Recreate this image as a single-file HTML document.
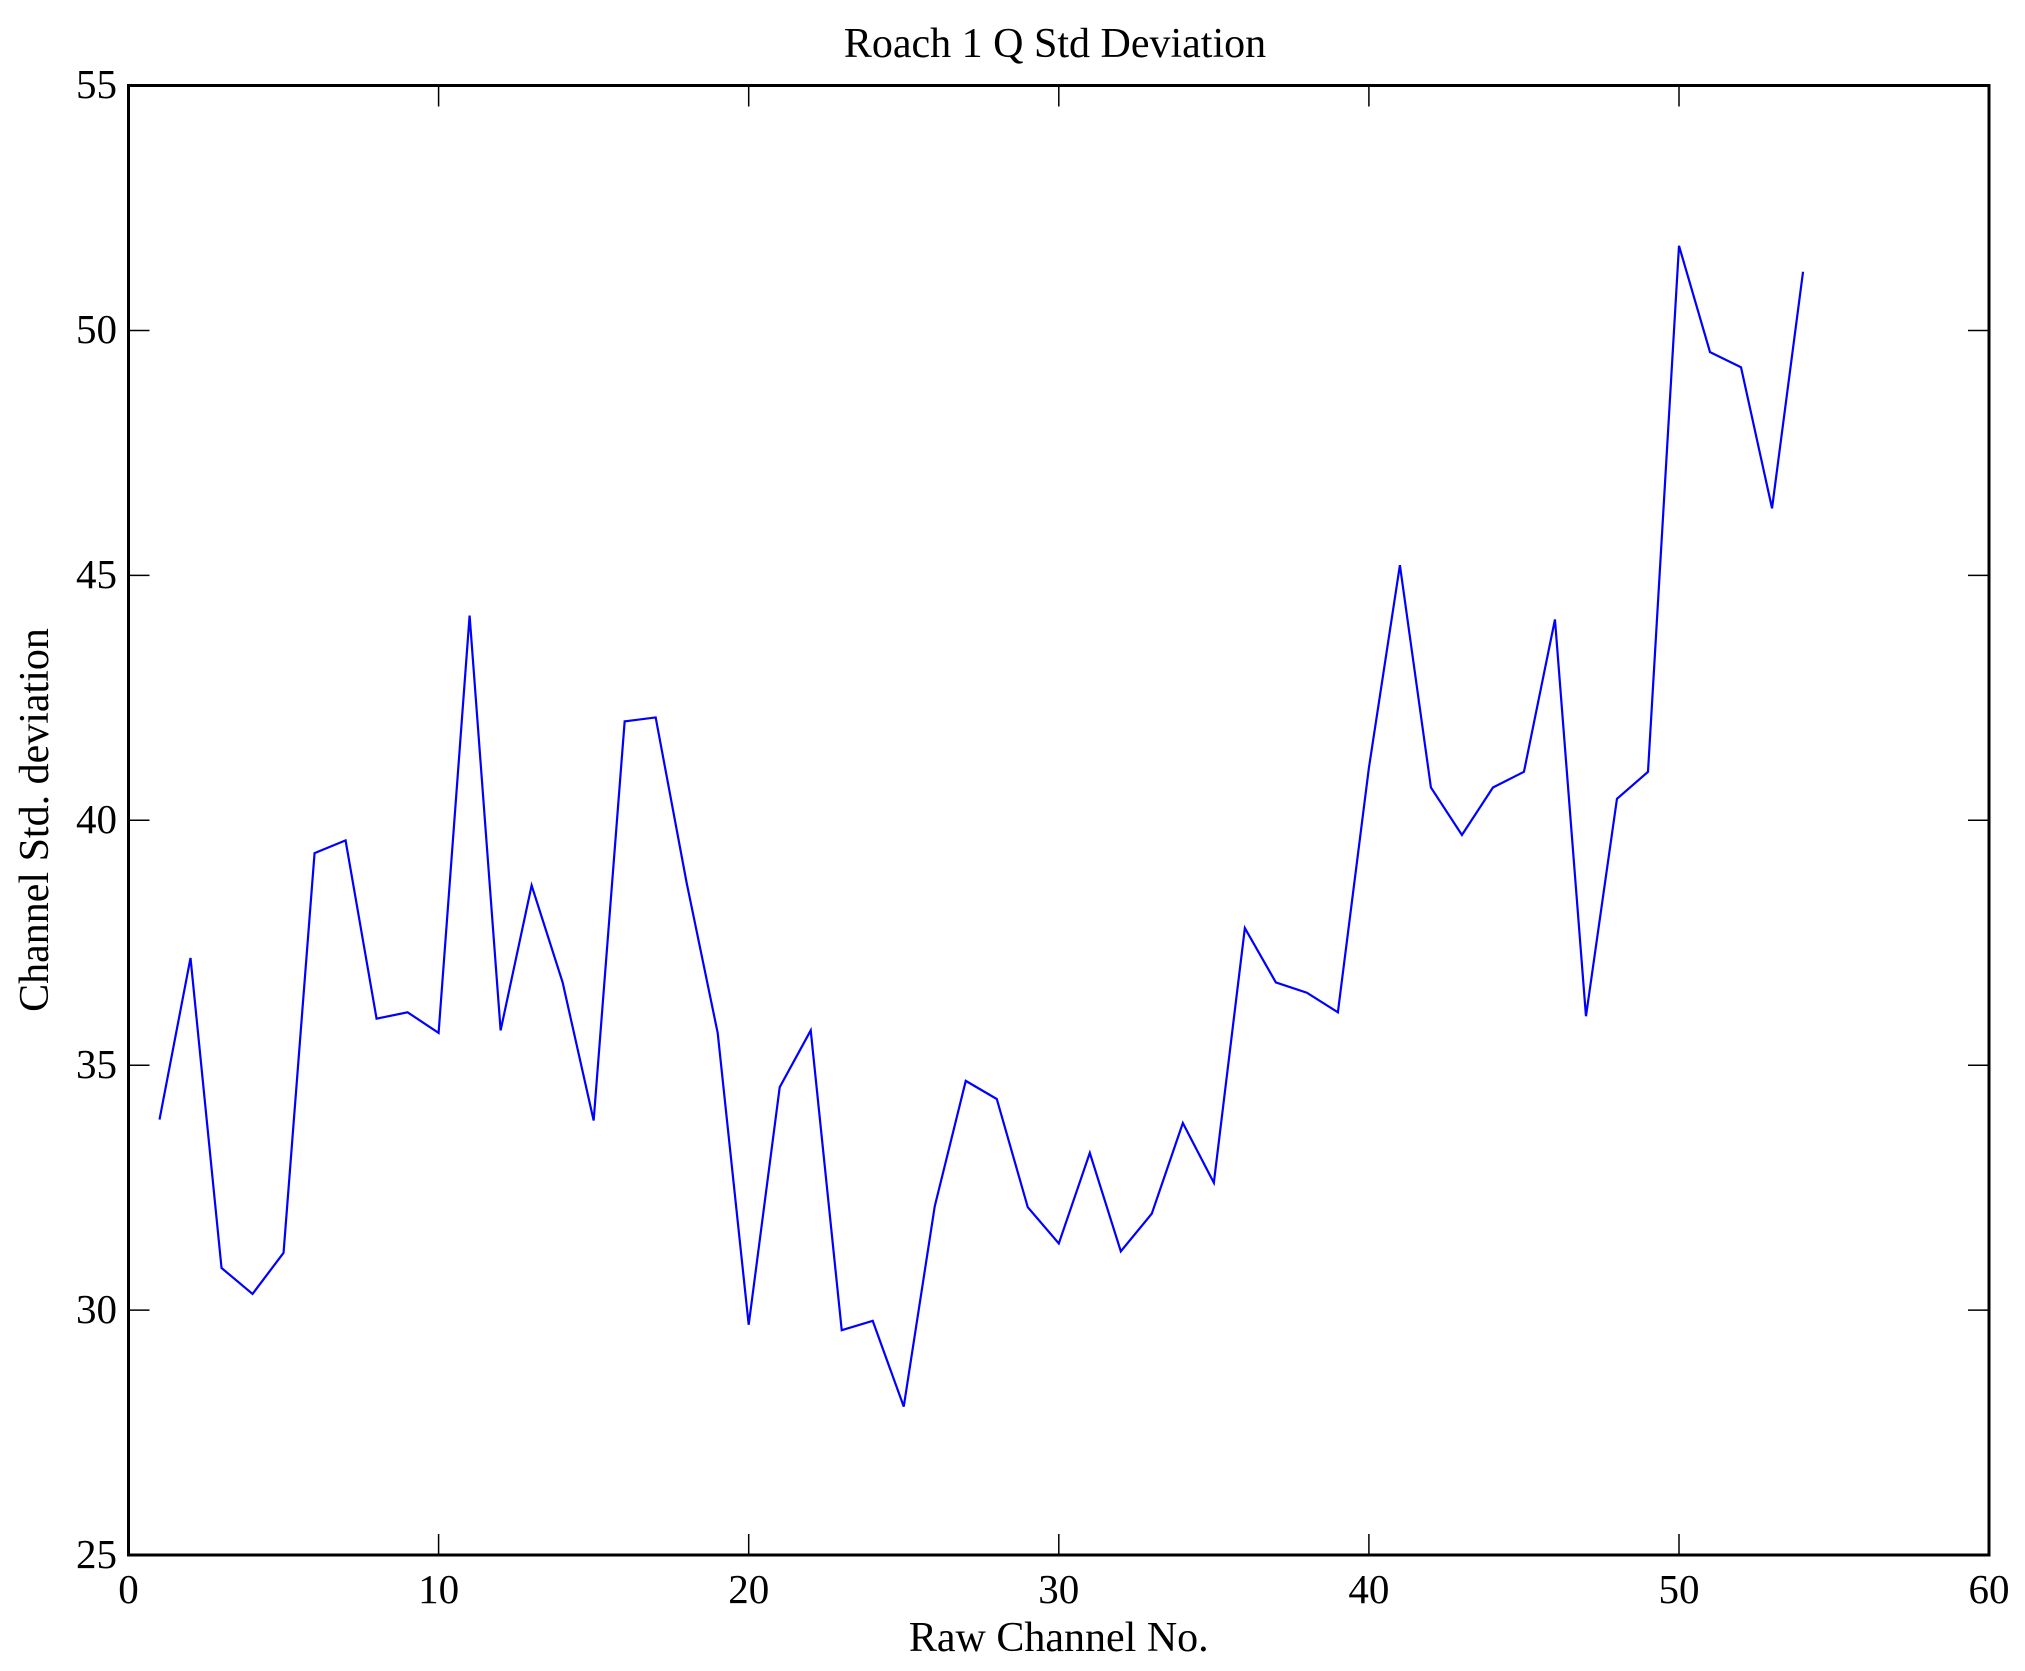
<!DOCTYPE html>
<html><head><meta charset="utf-8"><style>
html,body{margin:0;padding:0;background:#fff;}
svg{display:block;}
text{font-family:"Liberation Serif",serif;fill:#000;}
</style></head><body>
<svg width="2025" height="1671" viewBox="0 0 2025 1671" xmlns="http://www.w3.org/2000/svg">
<rect width="2025" height="1671" fill="#fff"/>
<g transform="translate(128.5,1555) scale(31.01,-48.98) translate(0,-25)">
<polyline fill="none" stroke="#0000ff" stroke-width="2.2" vector-effect="non-scaling-stroke" stroke-linejoin="miter"
points="1,33.89 2,37.19 3,30.86 4,30.33 5,31.17 6,39.33 7,39.59 8,35.95 9,36.08 10,35.66 11,44.18 12,35.71 13,38.67 14,36.69 15,33.87 16,42.02 17,42.10 18,38.72 19,35.66 20,29.70 21,34.55 22,35.71 23,29.59 24,29.78 25,28.03 26,32.12 27,34.68 28,34.31 29,32.10 30,31.36 31,33.21 32,31.20 33,31.97 34,33.82 35,32.60 36,37.80 37,36.69 38,36.48 39,36.08 40,41.07 41,45.21 42,40.67 43,39.70 44,40.67 45,40.99 46,44.10 47,36.00 48,40.44 49,40.99 50,51.73 51,49.56 52,49.25 53,46.37 54,51.20"/>
</g>
<g stroke="#000" stroke-width="1.5">
<path d="M438.6,1555v-21M748.7,1555v-21M1058.8,1555v-21M1368.9,1555v-21M1679,1555v-21
M438.6,85.5v21M748.7,85.5v21M1058.8,85.5v21M1368.9,85.5v21M1679,85.5v21
M128.5,1310.1h21M128.5,1065.2h21M128.5,820.3h21M128.5,575.4h21M128.5,330.5h21
M1989,1310.1h-21M1989,1065.2h-21M1989,820.3h-21M1989,575.4h-21M1989,330.5h-21"/>
</g>
<rect x="128.5" y="85.5" width="1860.5" height="1469.5" fill="none" stroke="#000" stroke-width="3"/>
<g font-size="41" text-anchor="middle">
<text x="128.5" y="1603">0</text>
<text x="438.6" y="1603">10</text>
<text x="748.7" y="1603">20</text>
<text x="1058.8" y="1603">30</text>
<text x="1368.9" y="1603">40</text>
<text x="1679" y="1603">50</text>
<text x="1989" y="1603">60</text>
</g>
<g font-size="41" text-anchor="end">
<text x="117" y="1568">25</text>
<text x="117" y="1323">30</text>
<text x="117" y="1078">35</text>
<text x="117" y="833">40</text>
<text x="117" y="588">45</text>
<text x="117" y="343">50</text>
<text x="117" y="98">55</text>
</g>
<text x="1058.8" y="1651" font-size="42" text-anchor="middle">Raw Channel No.</text>
<text x="1055" y="57" font-size="42" text-anchor="middle">Roach 1 Q Std Deviation</text>
<text transform="translate(48,820) rotate(-90)" font-size="42" text-anchor="middle">Channel Std. deviation</text>
</svg>
</body></html>
